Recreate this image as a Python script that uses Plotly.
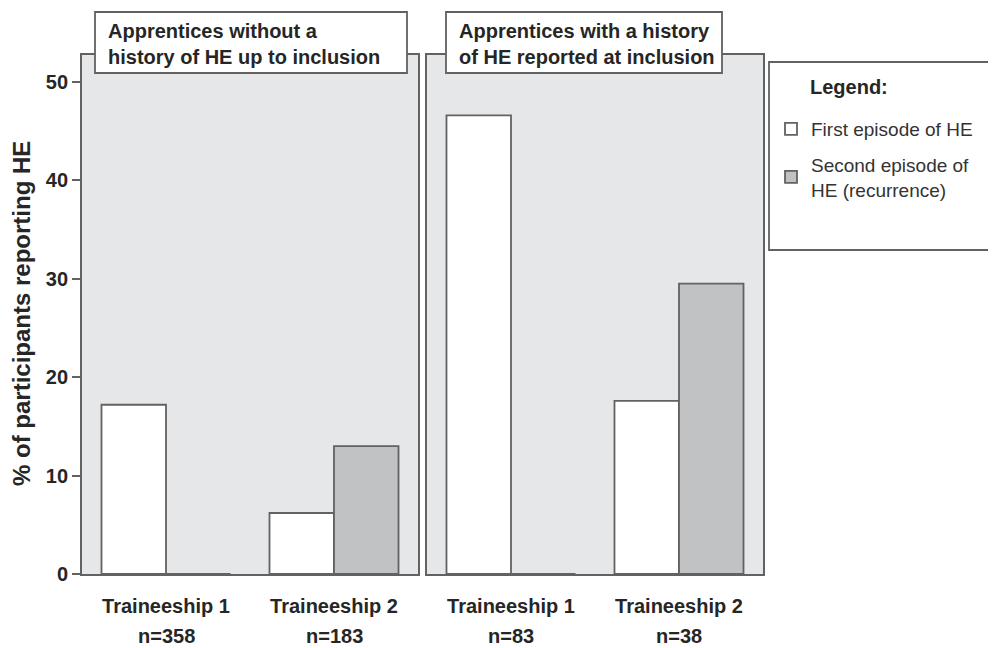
import plotly.graph_objects as go

# ---- data ----
categories = ["Traineeship 1", "Traineeship 2"]
panel_titles = ["Apprentices without a<br>history of HE up to inclusion",
                "Apprentices with a history<br>of HE reported at inclusion"]
series_names = ["First episode of HE", "Second episode of<br>HE (recurrence)"]
first_without = [17.2, 6.2]
second_without = [0, 13.0]
first_with = [46.6, 17.6]
second_with = [0, 29.5]
n_without = ["n=358", "n=183"]
n_with = ["n=83", "n=38"]
y_ticks = [0, 10, 20, 30, 40, 50]
y_title = "% of participants reporting HE"
legend_title = "Legend:"

OFF = 8  # page body margin of the html page
W, H = 996 - OFF, 648 - OFF
FONT = "Liberation Sans, Arial, sans-serif"
TXT = "#262626"
EDGE = "#626262"
PANEL_BG = "#e6e7e9"
FILL1 = "#ffffff"
FILL2 = "#c1c2c4"

def px_x(p):
    return (p - OFF) / W

def px_y(p):
    return (H - (p - OFF)) / H

fig = go.Figure()

panels = [
    ("x", "y", first_without, second_without, n_without),
    ("x2", "y2", first_with, second_with, n_with),
]
for i, (xa, ya, f, s, n) in enumerate(panels):
    fig.add_trace(go.Bar(x=categories, y=f, name=series_names[0], xaxis=xa, yaxis=ya,
                         marker=dict(color=FILL1, line=dict(color=EDGE, width=1.8)),
                         showlegend=(i == 0), legendgroup="a", hoverinfo="y"))
    fig.add_trace(go.Bar(x=categories, y=s, name=series_names[1], xaxis=xa, yaxis=ya,
                         marker=dict(color=FILL2, line=dict(color=EDGE, width=1.8)),
                         showlegend=(i == 0), legendgroup="b", hoverinfo="y"))

yrange = [0, 52.74]
common_x = dict(type="category", showline=True, mirror=True, linecolor=EDGE, linewidth=1.8,
                ticks="", showgrid=False, zeroline=False, automargin=False,
                tickfont=dict(family=FONT, size=20, color=TXT),
                ticktext=["<b>%s</b>" % c for c in categories], tickvals=categories,
                ticklabelstandoff=13, fixedrange=True)
common_y = dict(range=yrange, showline=True, mirror=True, linecolor=EDGE, linewidth=1.8,
                showgrid=False, zeroline=False, automargin=False, fixedrange=True,
                tickvals=y_ticks)

fig.update_layout(
    width=W, height=H,
    margin=dict(l=0, r=0, t=0, b=0),
    paper_bgcolor="white",
    plot_bgcolor=PANEL_BG,
    barmode="group", bargap=0.232, bargroupgap=0,
    font=dict(family=FONT, color=TXT),
    xaxis=dict(domain=[px_x(82), px_x(418)], anchor="y", **common_x),
    xaxis2=dict(domain=[px_x(427), px_x(763)], anchor="y2", **common_x),
    yaxis=dict(domain=[px_y(574), px_y(55)], anchor="x", ticks="outside", ticklen=8,
               tickcolor=EDGE, tickwidth=1.8,
               ticktext=["<b>%d</b>" % t for t in y_ticks],
               tickfont=dict(family=FONT, size=20, color=TXT), **common_y),
    yaxis2=dict(domain=[px_y(574), px_y(55)], anchor="x2", matches="y", ticks="",
                showticklabels=False, **common_y),
    legend=dict(x=px_x(771), y=px_y(110), xanchor="left", yanchor="top",
                bgcolor="rgba(0,0,0,0)", borderwidth=0,
                font=dict(family=FONT, size=19, color="#333333"),
                tracegroupgap=8, itemwidth=30),
    showlegend=True,
)

shapes = []
annotations = []
# title boxes
boxes = [(95, 407), (446, 722)]
for (x0, x1), t in zip(boxes, panel_titles):
    shapes.append(dict(type="rect", xref="paper", yref="paper",
                       x0=px_x(x0), x1=px_x(x1), y0=px_y(73), y1=px_y(12),
                       fillcolor="white", line=dict(color=EDGE, width=1.8), layer="above"))
    annotations.append(dict(xref="paper", yref="paper", x=px_x(x0 + 11), y=px_y(44),
                            xanchor="left", yanchor="middle", align="left", showarrow=False,
                            text="<b>%s</b>" % t,
                            font=dict(family=FONT, size=20, color=TXT)))
# legend box
shapes.append(dict(type="rect", xref="paper", yref="paper",
                   x0=px_x(769), x1=px_x(1010), y0=px_y(250), y1=px_y(62),
                   fillcolor="white", line=dict(color=EDGE, width=1.8), layer="below"))
annotations.append(dict(xref="paper", yref="paper", x=px_x(808), y=px_y(87),
                        xanchor="left", yanchor="middle", showarrow=False,
                        text="<b>%s</b>" % legend_title,
                        font=dict(family=FONT, size=20, color=TXT)))
# n labels
for xa, n in (("x", n_without), ("x2", n_with)):
    for c, lab in zip(categories, n):
        annotations.append(dict(xref=xa, yref="paper", x=c, y=px_y(636),
                                xanchor="center", yanchor="middle", showarrow=False,
                                text="<b>%s</b>" % lab,
                                font=dict(family=FONT, size=20, color=TXT)))
# y-axis title
annotations.append(dict(xref="paper", yref="paper", x=px_x(21), y=px_y(314),
                        xanchor="center", yanchor="middle", showarrow=False, textangle=-90,
                        text="<b>%s</b>" % y_title,
                        font=dict(family=FONT, size=24, color=TXT)))

fig.update_layout(shapes=shapes, annotations=annotations)
fig.write_html("out.html")
